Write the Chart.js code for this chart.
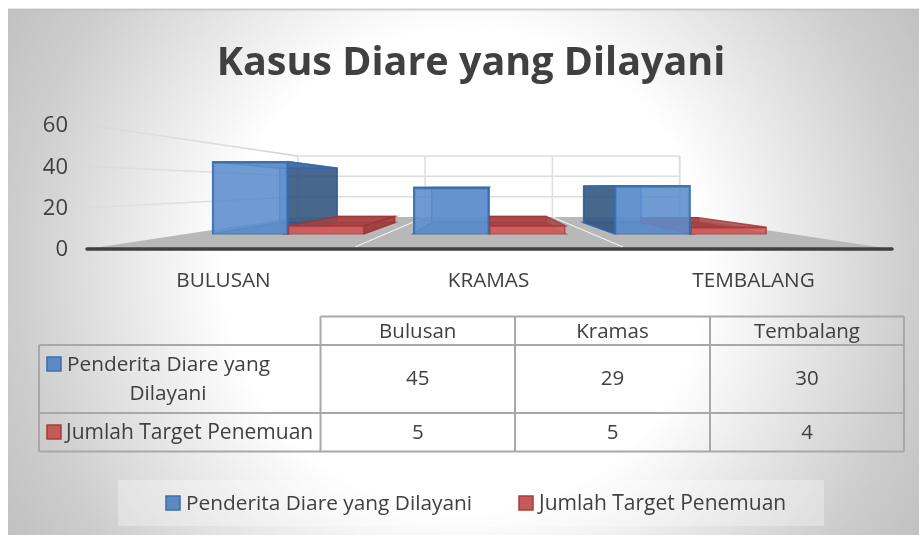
<!DOCTYPE html>
<html>
<head>
<meta charset="utf-8">
<style>html,body{margin:0;padding:0;background:#fff}#w{width:919px;height:535px;position:relative}</style>
<script src="https://cdn.jsdelivr.net/npm/chart.js@4"></script>
</head>
<body>
<div id="w"><canvas id="c" width="919" height="535"></canvas></div>
<script>
const chartTitle = 'Kasus Diare yang Dilayani';
const categories = ['BULUSAN', 'KRAMAS', 'TEMBALANG'];
const tableHeaders = ['Bulusan', 'Kramas', 'Tembalang'];
const seriesNames = ['Penderita Diare yang Dilayani', 'Jumlah Target Penemuan'];
const penderita = [45, 29, 30];
const target = [5, 5, 4];
const positions = [0, 1, 2];

const FONT = '"Open Sans", sans-serif';
const TXT = '#404040';
const VP = {x: 488.5, y: 188};
const DEPTH = 0.755;
const proj = (x, y, s) => [VP.x + (x - VP.x) * s, VP.y + (y - VP.y) * s];

function poly(ctx, pts, fill, stroke, lw) {
  ctx.beginPath();
  pts.forEach((p, i) => i ? ctx.lineTo(p[0], p[1]) : ctx.moveTo(p[0], p[1]));
  ctx.closePath();
  if (fill) { ctx.fillStyle = fill; ctx.fill(); }
  if (stroke) { ctx.strokeStyle = stroke; ctx.lineWidth = lw || 1; ctx.stroke(); }
}
function line(ctx, a, b, color, lw) {
  ctx.beginPath(); ctx.moveTo(a[0], a[1]); ctx.lineTo(b[0], b[1]);
  ctx.strokeStyle = color; ctx.lineWidth = lw; ctx.stroke();
}

const panelPlugin = {
  id: 'panel',
  afterLayout(chart) { chart.scales.y.left = 0; },
  beforeDraw(chart) {
    const ctx = chart.ctx;
    ctx.save();
    ctx.fillStyle = '#fff'; ctx.fillRect(0, 0, 919, 535);
    ctx.beginPath(); ctx.rect(8, 9, 911, 526); ctx.clip();
    const g = ctx.createRadialGradient(465, 270, 0, 465, 270, 520);
    g.addColorStop(0, '#ffffff');
    g.addColorStop(240 / 520, '#ffffff');
    g.addColorStop(450 / 520, '#cdcdcd');
    g.addColorStop(1, '#c2c2c2');
    ctx.fillStyle = g; ctx.fillRect(0, 0, 919, 535);
    ctx.restore();
    ctx.save();
    line(ctx, [8, 9.5], [919, 9.5], 'rgba(190,190,190,.7)', 2);
    ctx.fillStyle = 'rgba(255,255,255,.3)';
    ctx.fillRect(118, 480, 706, 46);
    ctx.restore();
  },
  beforeDatasetsDraw(chart) {
    const ctx = chart.ctx, y = chart.scales.y;
    const py = v => y.getPixelForValue(v) - 1;
    const L = 87, R = 891, y0 = py(0);
    const bx = x => VP.x + (x - VP.x) * 0.475;
    const by = v => 186 + (py(v) - 186) * 0.492;
    ctx.save();
    // floor
    poly(ctx, [[L, y0], [R, y0], [bx(R), by(0)], [bx(L), by(0)]], '#b8b8b8');
    // floor dividers and back wall verticals
    const w = (R - L) / 3;
    [1, 2].forEach(i => {
      const fx = L + w * i;
      line(ctx, [fx, y0 - 2], [bx(fx), by(0)], 'rgba(255,255,255,.8)', 1.2);
      line(ctx, [bx(fx), by(60)], [bx(fx), by(0)], '#dedede', 1.5);
    });
    line(ctx, [bx(L), by(60)], [bx(L), by(0)], '#dedede', 1.5);
    line(ctx, [bx(R), by(60)], [bx(R), by(0)], '#dedede', 2);
    // wall gridlines
    y.ticks.forEach(t => {
      const v = t.value;
      if (v > 0) {
        line(ctx, [bx(L), by(v)], [bx(R), by(v)], '#dedede', 1.5);
        const g = ctx.createLinearGradient(L, 0, bx(L), 0);
        g.addColorStop(0, 'rgba(205,205,205,.15)');
        g.addColorStop(1, 'rgba(205,205,205,.95)');
        line(ctx, [L, py(v)], [bx(L), by(v)], g, 1.5);
      }
    });
    // 3D bar faces behind the library's front faces
    const styles = [
      {back: 'rgba(85,130,185,.55)', side: 'rgba(52,84,125,.82)', flat: 'rgba(70,110,165,.6)', edge: 'rgba(50,105,170,.85)'},
      {back: 'rgba(170,60,60,.55)', side: 'rgba(160,60,60,.75)', flat: 'rgba(165,66,66,.82)', edge: 'rgba(165,50,50,.8)'}
    ];
    [0, 1].forEach(d => {
      const st = styles[d];
      chart.getDatasetMeta(d).data.forEach(b => {
        const l = b.x - b.width / 2, r = b.x + b.width / 2, t = b.y, n = b.base;
        const fp = [[l, t], [r, t], [r, n], [l, n]];
        const bp = fp.map(p => proj(p[0], p[1], DEPTH));
        poly(ctx, bp, st.back, st.edge, 1.5);
        poly(ctx, [fp[3], fp[2], bp[2], bp[3]], st.flat, st.edge, 1.5);
        if (bp[1][0] > r) poly(ctx, [fp[1], fp[2], bp[2], bp[1]], st.side, st.edge, 1.5);
        if (bp[0][0] < l) poly(ctx, [fp[0], fp[3], bp[3], bp[0]], st.side, st.edge, 1.5);
        poly(ctx, [fp[0], fp[1], bp[1], bp[0]], st.flat, st.edge, 1.5);
      });
    });
    // base line
    ctx.lineCap = 'round';
    line(ctx, [L, y0], [R + 1, y0], '#404040', 3.5);
    ctx.restore();
  },
  afterDraw(chart) {
    const ctx = chart.ctx;
    const col = [39, 320.5, 515, 710, 904];
    const row = [316.5, 345, 413, 451.5];
    const colors = [['#5b8ac4', '#3f6ea6'], ['#c45a5a', '#a83c3c']];
    ctx.save();
    const grid = '#a8a8a8';
    for (let i = 1; i < 5; i++) line(ctx, [col[i], row[0]], [col[i], row[3]], grid, 2);
    line(ctx, [col[0], row[1]], [col[0], row[3]], grid, 2);
    line(ctx, [col[1], row[0]], [col[4], row[0]], grid, 2);
    line(ctx, [col[0], row[1]], [col[4], row[1]], grid, 2);
    line(ctx, [col[0], row[2]], [col[4], row[2]], grid, 2);
    line(ctx, [col[0], row[3]], [col[4], row[3]], grid, 2);
    ctx.fillStyle = TXT;
    ctx.font = '20.5px ' + FONT;
    ctx.textBaseline = 'middle';
    ctx.textAlign = 'center';
    tableHeaders.forEach((h, i) => ctx.fillText(h, (col[i + 1] + col[i + 2]) / 2, 332));
    penderita.forEach((v, i) => ctx.fillText(String(v), (col[i + 1] + col[i + 2]) / 2, 379));
    target.forEach((v, i) => ctx.fillText(String(v), (col[i + 1] + col[i + 2]) / 2, 433));
    const key = (x, y, c) => {
      ctx.fillStyle = c[0]; ctx.strokeStyle = c[1]; ctx.lineWidth = 1.5;
      ctx.fillRect(x, y, 14, 14); ctx.strokeRect(x, y, 14, 14);
    };
    key(47, 357, colors[0]);
    key(47, 425, colors[1]);
    ctx.fillStyle = TXT;
    ctx.font = '20.8px ' + FONT;
    const words = seriesNames[0].split(' ');
    ctx.textAlign = 'left';
    ctx.fillText(words.slice(0, 3).join(' '), 67, 365);
    ctx.textAlign = 'center';
    ctx.fillText(words.slice(3).join(' '), 168, 394);
    ctx.textAlign = 'left';
    ctx.font = '21px ' + FONT;
    ctx.fillText(seriesNames[1], 66, 433);
    // legend
    key(166, 496, colors[0]);
    key(519, 496, colors[1]);
    ctx.fillStyle = TXT;
    ctx.font = '20.85px ' + FONT;
    ctx.fillText(seriesNames[0], 186, 504);
    ctx.font = '21px ' + FONT;
    ctx.fillText(seriesNames[1], 539, 504);
    ctx.restore();
  }
};

new Chart(document.getElementById('c'), {
  type: 'bar',
  plugins: [panelPlugin],
  data: {
    labels: categories,
    datasets: [
      {label: seriesNames[0], data: penderita.map((v, i) => ({x: positions[i], y: v})), xAxisID: 'x2', yAxisID: 'y2',
       backgroundColor: 'rgba(92,141,204,.88)', borderColor: 'rgba(55,110,175,.95)', borderWidth: 2, barThickness: 76},
      {label: seriesNames[1], data: target.map((v, i) => ({x: positions[i], y: v})), xAxisID: 'x2', yAxisID: 'y2',
       backgroundColor: 'rgba(208,96,96,.9)', borderColor: 'rgba(180,55,55,.9)', borderWidth: 1.5, barThickness: 76}
    ]
  },
  options: {
    responsive: false,
    animation: false,
    layout: {padding: {left: 56, right: 33, top: 0, bottom: 0}},
    plugins: {
      legend: {display: false},
      tooltip: {enabled: false},
      title: {display: true, text: chartTitle, color: TXT, align: 'center',
        font: {family: FONT, size: 39.5, weight: '700', lineHeight: 1.2},
        padding: {top: 40, bottom: 38.6}}
    },
    scales: {
      x: {position: 'bottom', grid: {display: false}, border: {display: false},
        ticks: {color: TXT, font: {family: FONT, size: 20.7}, padding: 11, maxRotation: 0},
        afterFit(s) { s.height = 285; }},
      x2: {type: 'linear', display: false, offset: false, min: -0.979, max: 2.971},
      y: {position: 'left', min: 0, max: 60, grid: {display: false}, border: {display: false},
        ticks: {stepSize: 20, color: TXT, font: {family: FONT, size: 22}, padding: 15},
        afterFit(s) { s.width = 35; }},
      y2: {display: false, min: -10.19, max: 67.31}
    }
  }
});
</script>
</body>
</html>
